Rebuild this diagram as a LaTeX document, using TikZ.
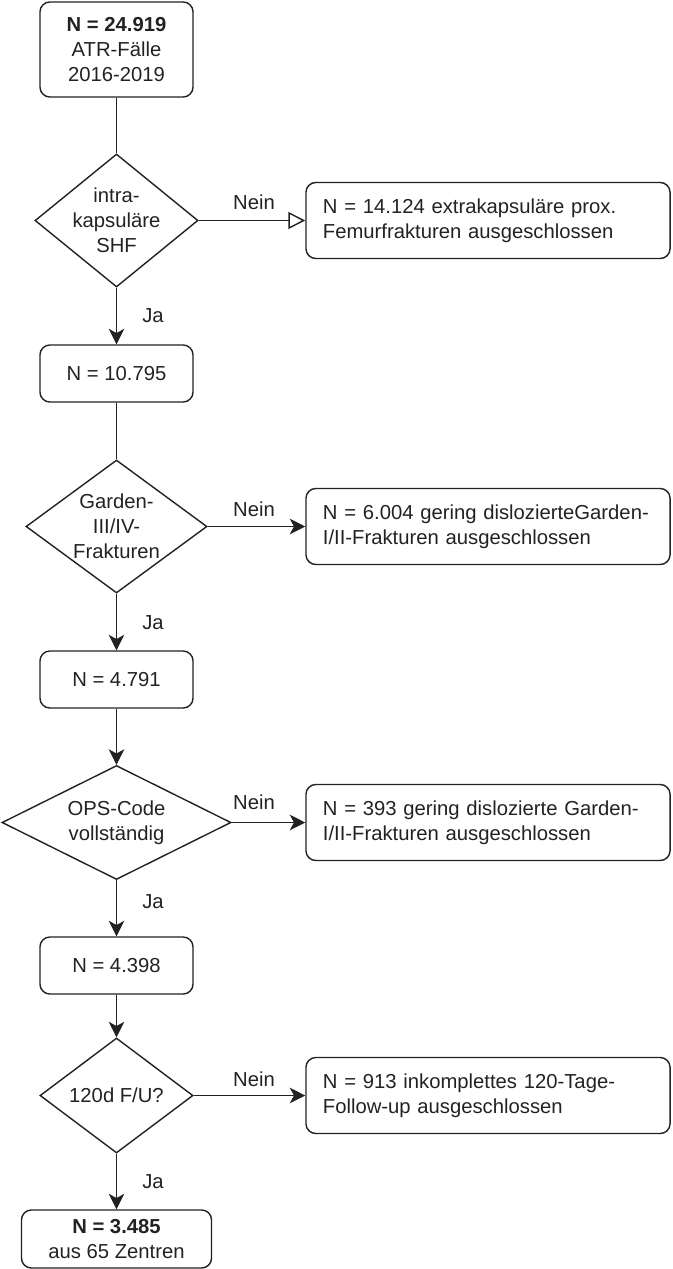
\documentclass[tikz,border=0pt]{standalone}
\usepackage{fontspec}
\setmainfont{Liberation Sans}
\usetikzlibrary{arrows.meta,graphs,shapes.geometric}
\definecolor{flow.fg}{rgb}{0.14,0.13,0.13}

\begin{document}
\begin{tikzpicture}[x=0.025cm, y=-0.025cm, line width=1pt, flow.fg,
    font=\fontsize{14.4}{17.7}\selectfont,
    >={Stealth[length=11pt, width=11pt, inset=3pt]}]
  \tikzset{box/.append style={draw, rounded corners=7pt, inner sep=0,
      align=center, minimum width=3.825cm, minimum height=1.425cm},
    dec/.append style={draw, diamond, inner sep=0},
    excl/.append style={draw, rounded corners=7pt, align=left,
      text width=8.25cm, inner xsep=0.425cm, minimum height=1.9cm},
    nein open/.style={-{Triangle[open, length=12pt, width=12pt, fill=white]}}}
  \useasboundingbox (0,0) rectangle (672,1269);

  \node[box, minimum height=2.375cm] (n0) at (116.5,49.5)
    {\textbf{N = 24.919}\\ATR-Fälle\\2016-2019};
  \node[dec, minimum width=4.075cm, minimum height=3.325cm,
    label={[align=center]center:intra-\\kapsuläre\\SHF}] (q1) at (116.5,220.5) {};
  \node[excl] (x1) at (488,220.5)
    {N = 14.124 extrakapsuläre prox.\\Femurfrakturen ausgeschlossen};

  \node[box] (n1) at (116.5,373.5) {N = 10.795};
  \node[dec, minimum width=4.525cm, minimum height=3.325cm,
    label={[align=center]center:Garden-\\III/IV-\\Frakturen}] (q2) at (116.5,526.5) {};
  \node[excl] (x2) at (488,526.5)
    {N = 6.004 gering dislozierteGarden-\\I/II-Frakturen ausgeschlossen};

  \node[box] (n2) at (116.5,679.5) {N = 4.791};
  \node[dec, minimum width=5.725cm, minimum height=2.85cm,
    label={[align=center]center:OPS-Code\\vollständig}] (q3) at (116.5,822.5) {};
  \node[excl] (x3) at (488,822.5)
    {N = 393 gering dislozierte Garden-\\I/II-Frakturen ausgeschlossen};

  \node[box] (n3) at (116.5,965.5) {N = 4.398};
  \node[dec, minimum width=3.825cm, minimum height=2.875cm,
    label={center:120d F/U?}] (q4) at (116.5,1095.5) {};
  \node[excl] (x4) at (488,1095.5)
    {N = 913 inkomplettes 120-Tage-\\Follow-up ausgeschlossen};

  \node[box, minimum width=4.75cm, minimum height=1.45cm] (n4) at (116.5,1239)
    {\textbf{N = 3.485}\\aus 65 Zentren};

  \node (nein1) at (254,202) {Nein};
  \node (nein2) at (254,509) {Nein};
  \node (nein3) at (254,802) {Nein};
  \node (nein4) at (254,1079) {Nein};
  \node (ja1) at (153,316) {Ja};
  \node (ja2) at (153,623) {Ja};
  \node (ja3) at (153,902) {Ja};
  \node (ja4) at (153,1182) {Ja};

  \graph[use existing nodes] {
    n0 -- q1 --[nein open] x1;
    q1 -> n1 -- q2 -> x2;
    q2 -> n2 -> q3 -> x3;
    q3 -> n3 -> q4 -> x4;
    q4 -> n4;
  };
\end{tikzpicture}
\end{document}
